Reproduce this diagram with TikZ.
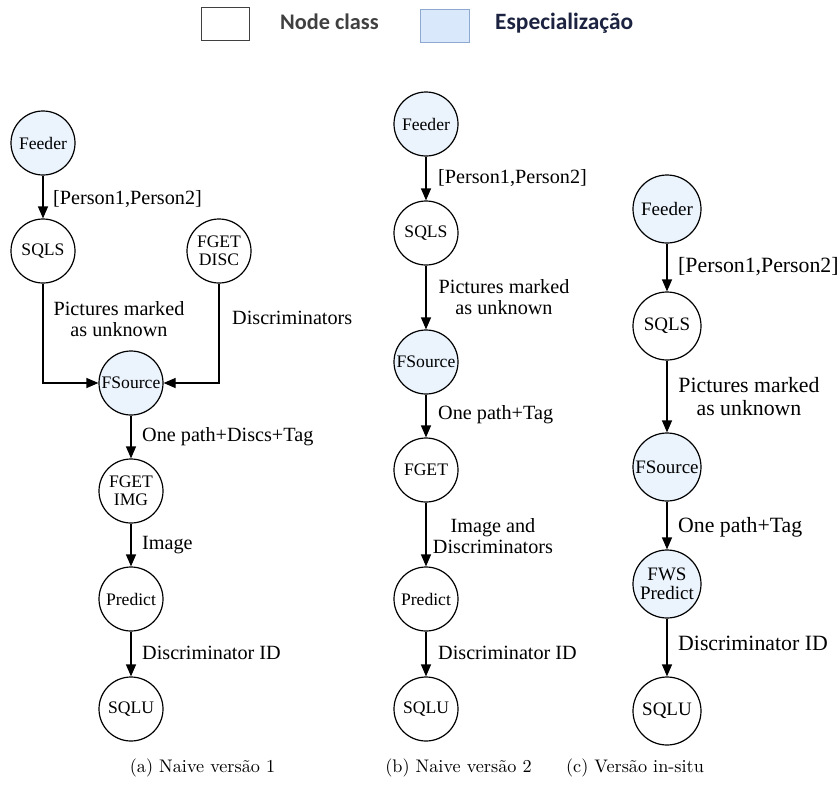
\documentclass[tikz,border=0pt]{standalone}
\usepackage{fontspec}
\setmainfont{Liberation Serif}
\newfontfamily\lmr[Extension=.otf]{lmroman10-regular}
\newfontfamily\legfont{Carlito}
\usetikzlibrary{arrows.meta}
\definecolor{spblue}{HTML}{EBF4FD}
\definecolor{legblue}{HTML}{DAE8FC}
\definecolor{legedge}{HTML}{8EA9D0}
\definecolor{leggray}{HTML}{404040}
\definecolor{legnavy}{HTML}{1B2340}
\begin{document}
\begin{tikzpicture}[x=1pt,y=-1pt,
  nd/.style={circle, draw, line width=1.2pt, minimum size=64pt, inner sep=0pt,
    font=\fontsize{17.6}{17.5}\selectfont, align=center},
  sp/.style={nd, fill=spblue},
  ndc/.style={nd, minimum size=68pt, font=\fontsize{19}{19}\selectfont},
  spc/.style={ndc, fill=spblue},
  ed/.style={-{Triangle[length=12pt,width=10pt]}, line width=1.2pt},
  lbl/.style={font=\fontsize{20.2}{21.5}\selectfont, align=center, inner sep=0pt},
  lblc/.style={font=\fontsize{21.8}{23}\selectfont, align=center, inner sep=0pt},
  captext/.style={font=\lmr\fontsize{18.2}{20}\selectfont, inner sep=0pt},
  leg/.style={font=\legfont\bfseries\fontsize{22.3}{24}\selectfont, inner sep=0pt}]
\useasboundingbox (0,0) rectangle (840,803);

% legend
\node[draw=black!75, line width=1pt, minimum width=48pt, minimum height=33pt, inner sep=0pt] (lw) at (225,23.5) {};
\node[leg, text=leggray, anchor=west] (lwt) at (280,22) {Node class};
\node[draw=legedge, fill=legblue, line width=1pt, minimum width=49pt, minimum height=33pt, inner sep=0pt] (lb) at (444.5,25.5) {};
\node[leg, text=legnavy, anchor=west, font=\legfont\bfseries\fontsize{23.4}{24}\selectfont] (lbt) at (495,23) {Especialização};

% (a)
\node[sp] (aF) at (43,143) {Feeder};
\node[nd] (aS) at (43,251) {SQLS};
\node[nd] (aD) at (219,251) {FGET\\DISC};
\node[sp] (aFS) at (131,383) {FSource};
\node[nd] (aG) at (131,491) {FGET\\IMG};
\node[nd] (aP) at (131,599) {Predict};
\node[nd] (aU) at (131,709) {SQLU};
\draw[ed] (aF) -- (aS);
\draw[ed] (aS.south) |- (aFS.west);
\draw[ed] (aD.south) |- (aFS.east);
\draw[ed] (aFS) -- (aG);
\draw[ed] (aG) -- (aP);
\draw[ed] (aP) -- (aU);
\node[lbl, anchor=west] (al1) at (53,199) {[Person1,Person2]};
\node[lbl] (al2) at (119,319) {Pictures marked\\as unknown};
\node[lbl, anchor=west] (al3) at (232,318) {Discriminators};
\node[lbl, anchor=west] (al4) at (142,437) {One path+Discs+Tag};
\node[lbl, anchor=west] (al5) at (142,545) {Image};
\node[lbl, anchor=west] (al6) at (142,653) {Discriminator ID};

% (b)
\node[sp] (bF) at (426,124) {Feeder};
\node[nd] (bS) at (426,233) {SQLS};
\node[sp] (bFS) at (426,362) {FSource};
\node[nd] (bG) at (426,470) {FGET};
\node[nd] (bP) at (426,599) {Predict};
\node[nd] (bU) at (426,709) {SQLU};
\draw[ed] (bF) -- (bS);
\draw[ed] (bS) -- (bFS);
\draw[ed] (bFS) -- (bG);
\draw[ed] (bG) -- (bP);
\draw[ed] (bP) -- (bU);
\node[lbl, anchor=west] (bl1) at (438,178) {[Person1,Person2]};
\node[lbl] (bl2) at (504,297) {Pictures marked\\as unknown};
\node[lbl, anchor=west] (bl4) at (438,415) {One path+Tag};
\node[lbl] (bl5) at (493,536) {Image and\\Discriminators};
\node[lbl, anchor=west] (bl6) at (438,653) {Discriminator ID};

% (c)
\node[spc] (cF) at (667,209) {Feeder};
\node[ndc] (cS) at (667,326) {SQLS};
\node[spc] (cFS) at (667,467) {FSource};
\node[spc] (cP) at (667,584) {FWS\\Predict};
\node[ndc] (cU) at (667,711) {SQLU};
\draw[ed] (cF) -- (cS);
\draw[ed] (cS) -- (cFS);
\draw[ed] (cFS) -- (cP);
\draw[ed] (cP) -- (cU);
\node[lblc, anchor=west] (cl1) at (678,267) {[Person1,Person2]};
\node[lblc] (cl2) at (749,397) {Pictures marked\\as unknown};
\node[lblc, anchor=west] (cl4) at (678,527) {One path+Tag};
\node[lblc, anchor=west] (cl6) at (678,643) {Discriminator ID};

% captions
\node[captext] (capa) at (202.5,768) {(a) Naive versão 1};
\node[captext] (capb) at (458.5,768) {(b) Naive versão 2};
\node[captext] (capc) at (635,768) {(c) Versão in-situ};
\end{tikzpicture}
\end{document}
